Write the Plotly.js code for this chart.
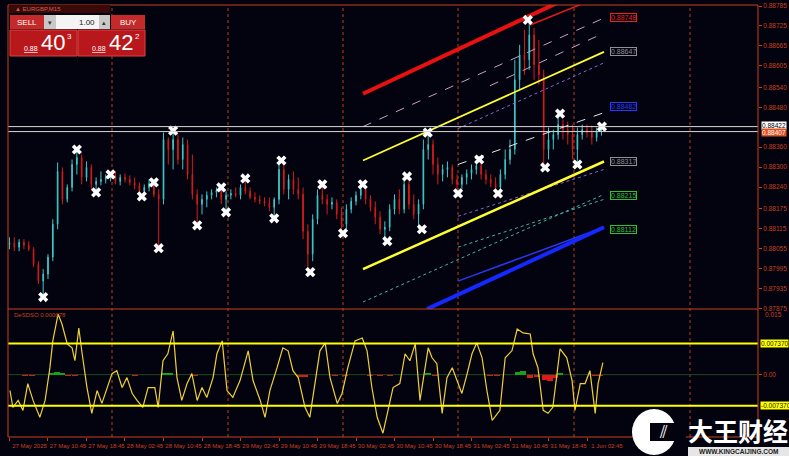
<!DOCTYPE html>
<html><head><meta charset="utf-8">
<script src="https://cdn.plot.ly/plotly-3.0.1.min.js"></script>
<style>html,body{margin:0;padding:0;background:#03030f;overflow:hidden}#chart{width:789px;height:456px;}</style>
</head><body><div id="chart"></div><script>
// ---------- DATA ----------
const xTickHours = [0,8,16,24,32,40,48,56,64,72,80,88,96,104,112,120];
const xTickLabels = ["27 May 2025","27 May 10:45","27 May 18:45","28 May 02:45","28 May 10:45","28 May 18:45","29 May 02:45","29 May 10:45","29 May 18:45","30 May 02:45","30 May 10:45","30 May 18:45","31 May 02:45","31 May 10:45","31 May 18:45","1 Jun 02:45"];
const daySeparators = [21.3,45.4,69.3,93.2,117.3,141.4];
const priceTicks = [0.88785,0.88725,0.88665,0.88605,0.88540,0.88480,0.88360,0.88300,0.88240,0.88175,0.88115,0.88055,0.87995,0.87935,0.87875];

const openP = [0.88068,0.88071,0.88059,0.88074,0.88065,0.88053,0.88008,0.87957,0.87978,0.88029,
0.88128,0.88287,0.88203,0.88239,0.88308,0.88329,0.88269,0.88299,0.88248,0.88257,
0.88263,0.88269,0.88275,0.88257,0.88269,0.88263,0.88254,0.88245,0.88227,0.88239,
0.88251,0.88218,0.88203,0.88383,0.88353,0.88383,0.88323,0.88368,0.88278,0.88218,
0.88188,0.88203,0.88215,0.88224,0.88230,0.88203,0.88215,0.88221,0.88215,0.88239,
0.88227,0.88209,0.88203,0.88197,0.88191,0.88179,0.88203,0.88293,0.88233,0.88263,
0.88233,0.88218,0.88107,0.88038,0.88143,0.88215,0.88203,0.88188,0.88194,0.88158,
0.88128,0.88173,0.88197,0.88215,0.88233,0.88203,0.88179,0.88149,0.88113,0.88119,
0.88173,0.88203,0.88173,0.88248,0.88188,0.88158,0.88188,0.88353,0.88368,0.88308,
0.88278,0.88293,0.88299,0.88263,0.88248,0.88269,0.88281,0.88293,0.88305,0.88278,
0.88263,0.88251,0.88239,0.88278,0.88323,0.88353,0.88563,0.88638,0.88623,0.88698,
0.88608,0.88578,0.88353,0.88383,0.88398,0.88428,0.88413,0.88398,0.88353,0.88398,
0.88413,0.88404,0.88389,0.88407];
const highP = [0.88089,0.88089,0.88083,0.88083,0.88077,0.88059,0.88017,0.87993,0.88038,0.88143,
0.88314,0.88299,0.88248,0.88323,0.88353,0.88338,0.88317,0.88308,0.88269,0.88287,
0.88278,0.88287,0.88287,0.88278,0.88281,0.88275,0.88269,0.88254,0.88248,0.88263,
0.88257,0.88233,0.88404,0.88389,0.88410,0.88398,0.88389,0.88383,0.88338,0.88233,
0.88218,0.88227,0.88233,0.88239,0.88239,0.88227,0.88233,0.88239,0.88248,0.88266,
0.88239,0.88224,0.88215,0.88209,0.88209,0.88209,0.88320,0.88308,0.88278,0.88287,
0.88269,0.88239,0.88128,0.88158,0.88233,0.88248,0.88218,0.88209,0.88203,0.88179,
0.88188,0.88209,0.88227,0.88248,0.88239,0.88215,0.88197,0.88167,0.88137,0.88188,
0.88218,0.88233,0.88272,0.88257,0.88218,0.88203,0.88383,0.88404,0.88383,0.88329,
0.88308,0.88317,0.88308,0.88278,0.88278,0.88293,0.88308,0.88323,0.88314,0.88293,
0.88278,0.88269,0.88293,0.88353,0.88383,0.88623,0.88668,0.88713,0.88734,0.88719,
0.88683,0.88593,0.88419,0.88413,0.88461,0.88443,0.88437,0.88428,0.88419,0.88428,
0.88428,0.88425,0.88419,0.88422];
const lowP = [0.88053,0.88047,0.88047,0.88053,0.88047,0.87999,0.87948,0.87909,0.87963,0.88017,
0.88113,0.88188,0.88194,0.88227,0.88278,0.88248,0.88257,0.88233,0.88218,0.88245,
0.88251,0.88257,0.88248,0.88245,0.88254,0.88245,0.88233,0.88212,0.88215,0.88227,
0.88209,0.88059,0.88188,0.88308,0.88293,0.88308,0.88293,0.88263,0.88203,0.88125,
0.88158,0.88179,0.88203,0.88209,0.88188,0.88164,0.88203,0.88209,0.88203,0.88218,
0.88203,0.88194,0.88188,0.88182,0.88167,0.88146,0.88188,0.88218,0.88203,0.88218,
0.88203,0.88083,0.87984,0.88017,0.88128,0.88188,0.88158,0.88173,0.88143,0.88101,
0.88113,0.88161,0.88185,0.88203,0.88188,0.88167,0.88128,0.88098,0.88077,0.88107,
0.88158,0.88158,0.88161,0.88173,0.88143,0.88113,0.88173,0.88323,0.88278,0.88248,
0.88257,0.88269,0.88248,0.88221,0.88233,0.88248,0.88263,0.88278,0.88263,0.88248,
0.88239,0.88221,0.88233,0.88263,0.88308,0.88338,0.88533,0.88578,0.88593,0.88563,
0.88548,0.88299,0.88323,0.88353,0.88383,0.88383,0.88368,0.88323,0.88308,0.88383,
0.88389,0.88368,0.88377,0.88395];
const closeP = [0.88071,0.88059,0.88074,0.88065,0.88053,0.88008,0.87957,0.87978,0.88029,0.88128,
0.88287,0.88203,0.88239,0.88308,0.88329,0.88269,0.88299,0.88248,0.88257,0.88263,
0.88269,0.88275,0.88257,0.88269,0.88263,0.88254,0.88245,0.88227,0.88239,0.88251,
0.88218,0.88203,0.88383,0.88353,0.88383,0.88323,0.88368,0.88278,0.88218,0.88188,
0.88203,0.88215,0.88224,0.88230,0.88203,0.88215,0.88221,0.88215,0.88239,0.88227,
0.88209,0.88203,0.88197,0.88191,0.88179,0.88203,0.88293,0.88233,0.88263,0.88233,
0.88218,0.88107,0.88038,0.88143,0.88215,0.88203,0.88188,0.88194,0.88158,0.88128,
0.88173,0.88197,0.88215,0.88233,0.88203,0.88179,0.88149,0.88113,0.88119,0.88173,
0.88203,0.88173,0.88248,0.88188,0.88158,0.88188,0.88353,0.88368,0.88308,0.88278,
0.88293,0.88299,0.88263,0.88248,0.88269,0.88281,0.88293,0.88305,0.88278,0.88263,
0.88251,0.88239,0.88278,0.88323,0.88353,0.88563,0.88638,0.88623,0.88698,0.88608,
0.88578,0.88353,0.88383,0.88398,0.88428,0.88413,0.88398,0.88353,0.88398,0.88413,
0.88404,0.88389,0.88407,0.88407];

const swingHours = [7,14,18,21,27.5,30,31,34,39,44,45,49,55,56.5,62.5,65,69.3,73.4,78.5,82.6,85.7,86.9,93.2,97.6,101.5,107.7,111.3,114.4,118,123.1];
const swingPrice = [0.87909,0.88353,0.88224,0.88278,0.88212,0.88254,0.88056,0.88410,0.88125,0.88239,0.88164,0.88266,0.88146,0.88320,0.87984,0.88248,0.88101,0.88248,0.88077,0.88272,0.88113,0.88404,0.88221,0.88323,0.88221,0.88743,0.88299,0.88461,0.88308,0.88422];

const bidAsk = [0.88422, 0.88407];
const bidAskLabels = ["0.88422", "0.88407"];
const oscLevels = [0.00737, -0.00737];
const oscLevelLabels = ["0.007370", "-0.007370"];
const oscTop = 0.015;

// channel / trend objects: [startHour, endHour] and [startPrice, endPrice]
const redThickX = [73.45,123.53], redThickY = [0.88521,0.88860];
const redThinX = [108.16,123.53], redThinY = [0.88728,0.88818];
const pinkDash1X = [73.45,123.53], pinkDash1Y = [0.88422,0.88749];
const pinkDash2X = [99.84,123.53], pinkDash2Y = [0.88545,0.88704];
const yellowUpX = [73.45,123.53], yellowUpY = [0.88320,0.88647];
const purpleUpX = [93.19,123.53], purpleUpY = [0.88416,0.88614];
const whiteMidX = [93.19,123.53], whiteMidY = [0.88308,0.88464];
const yellowLowX = [73.45,123.53], yellowLowY = [0.87993,0.88317];
const purpleLowX = [93.19,123.53], purpleLowY = [0.88152,0.88293];
const cyan1X = [73.45,123.53], cyan1Y = [0.87894,0.88218];
const cyan2X = [93.19,123.53], cyan2Y = [0.88059,0.88203];
const blueThickX = [86.75,123.53], blueThickY = [0.87873,0.88119];
const blueThinX = [93.19,123.53], blueThinY = [0.87957,0.88119];

const lineLabels = ["0.88748","0.88647","0.88482","0.88317","0.88215","0.88112"];
const lineLabelPrice = [0.88749,0.88647,0.88482,0.88317,0.88215,0.88112];

const oscHours = [0.1,0.7,1.8,2.8,3.8,4.9,6.3,7.4,8.4,9.0,10.1,10.9,12.0,13.0,13.6,14.4,15.1,16.1,17.1,18.2,19.2,20.3,21.3,22.3,23.4,24.4,25.5,26.5,27.7,28.8,30.2,30.9,31.9,32.9,34.0,34.8,35.8,36.9,37.9,39.0,40.0,41.0,42.3,43.1,44.2,45.2,46.4,47.9,49.6,50.6,52.1,53.1,54.1,55.6,56.8,57.9,58.9,60.0,61.4,62.4,63.5,64.5,65.6,66.6,68.1,69.1,70.3,71.8,73.3,74.3,75.3,76.4,77.6,79.7,81.1,82.2,83.2,84.3,85.3,86.3,87.0,87.8,88.8,89.9,90.9,92.0,93.0,94.0,95.1,96.1,97.1,98.2,99.2,100.3,101.9,103.0,104.4,105.5,106.7,108.2,108.8,109.8,110.9,111.9,112.9,113.8,114.4,115.8,116.9,117.5,118.6,119.6,120.6,121.7,122.3,123.3];
const oscValues = [-0.00377,-0.00777,-0.00612,-0.00848,-0.00212,-0.00612,-0.01013,-0.00612,0.00165,0.00801,0.01437,0.01201,0.0073,0.00636,0.0033,0.01107,0.00495,-0.00306,-0.00918,-0.00377,-0.00683,-0.00306,0.00024,0.00094,-0.00306,-0.00071,-0.00447,-0.00612,-0.00777,-0.00306,-0.00306,-0.00777,0.0033,0.00495,0.01036,-0.00071,-0.00612,-0.00212,0.00024,-0.00612,-0.00306,-0.00542,-0.00071,0.00495,0.00801,-0.00377,-0.00542,-0.00141,0.00565,-0.00141,-0.00612,-0.01013,-0.00377,0.00165,0.00636,0.00565,0.00094,-0.00071,-0.00777,-0.01013,-0.00141,0.00565,0.00754,-0.00071,-0.00683,-0.00447,0.00165,0.00801,0.00871,0.00565,-0.00306,-0.01013,-0.01389,-0.00306,-0.00212,0.00495,0.0033,0.0073,-0.00612,0.00165,0.00636,0.004,0.00259,-0.00918,-0.00071,0.00165,-0.00141,-0.00447,0.00024,0.00495,0.00754,0.004,-0.00377,-0.01083,-0.00848,0.004,0.00565,0.01083,0.00989,0.00966,0.00495,0.00165,-0.00848,-0.00918,-0.00777,0.00094,0.00612,0.004,-0.00141,-0.00848,-0.00212,-0.00212,0.00094,-0.00918,-0.00212,0.00283];
const histHours = [3.2,4.7,8.8,9.9,10.9,12.2,13.6,26.1,32.3,33.4,38.5,60.4,61.4,67.6,69.7,74.9,77,79.1,87,88.4,99.8,101.3,105.7,106.7,108.2,109.6,111.3,112.3,113.3,114.4,121.7,122.7];
const histValues = [-0.0003,-0.0004,0.0004,0.0006,0.0005,-0.0003,-0.0004,-0.0003,0.0004,0.0003,-0.0003,-0.0005,-0.0006,-0.0003,-0.0004,-0.0003,-0.0004,-0.0003,0.0004,-0.0004,-0.0004,-0.0003,0.0007,0.0009,-0.0008,-0.0006,-0.0012,-0.0014,-0.0008,0.0004,-0.0004,-0.0003];

// ---------- BUILD ----------
const barHours = closeP.map((_, i) => i);
const AX = '#c8401e';
const FONT = 'Liberation Sans, Arial, sans-serif';
const px = x => (x - 8) / 750;
const py = y => (437 - y) / 432;

function seg(xs, ys, color, width, dash) {
  return {type:'scatter', mode:'lines', x:xs, y:ys, xaxis:'x', yaxis:'y',
    line:{color:color, width:width, dash:dash||'solid'}, hoverinfo:'skip', showlegend:false};
}

const traces = [
  {type:'candlestick', x:barHours, open:openP, high:highP, low:lowP, close:closeP, xaxis:'x', yaxis:'y',
   increasing:{line:{color:'#3ec8c8', width:1}, fillcolor:'#3ec8c8'},
   decreasing:{line:{color:'#d41c1c', width:1}, fillcolor:'#d41c1c'},
   whiskerwidth:0, hoverinfo:'skip', showlegend:false},
  seg(pinkDash1X, pinkDash1Y, '#c8a0c8', 1, 'dash'),
  seg(pinkDash2X, pinkDash2Y, '#c8a0c8', 1, 'dash'),
  seg(purpleUpX, purpleUpY, '#8a64d0', 1, 'dot'),
  seg(whiteMidX, whiteMidY, '#e8e8e8', 1, 'dash'),
  seg(purpleLowX, purpleLowY, '#8a64d0', 1, 'dot'),
  seg(cyan1X, cyan1Y, '#48b0a8', 1, 'dot'),
  seg(cyan2X, cyan2Y, '#48b0a8', 1, 'dot'),
  seg(redThinX, redThinY, '#e81818', 1.5),
  seg(redThickX, redThickY, '#e81010', 4),
  seg(yellowUpX, yellowUpY, '#ffff30', 1.8),
  seg(yellowLowX, yellowLowY, '#ffff30', 2.5),
  seg(blueThinX, blueThinY, '#2838f0', 1.5),
  seg(blueThickX, blueThickY, '#1428ff', 4),
  {type:'scatter', mode:'markers', x:swingHours, y:swingPrice, xaxis:'x', yaxis:'y',
   marker:{symbol:'x', size:9, color:'#ffffff', line:{width:0}}, hoverinfo:'skip', showlegend:false},
  {type:'bar', x:histHours, y:histValues, xaxis:'x', yaxis:'y2',
   marker:{color:histValues.map(v => v >= 0 ? '#18a018' : '#e01818')}, width:1.2, hoverinfo:'skip', showlegend:false},
  {type:'scatter', mode:'lines', x:oscHours, y:oscValues, xaxis:'x', yaxis:'y2',
   line:{color:'#f0d038', width:1.2}, hoverinfo:'skip', showlegend:false}
];

const shapes = [];
daySeparators.forEach(h => shapes.push({type:'line', xref:'x', yref:'paper', x0:h, x1:h, y0:0, y1:1,
  line:{color:'#b8401e', width:1, dash:'dot'}, layer:'below'}));
bidAsk.forEach(p => shapes.push({type:'line', xref:'paper', yref:'y', x0:0, x1:1, y0:p, y1:p,
  line:{color:'#d8d8d8', width:1}}));
shapes.push({type:'line', xref:'paper', yref:'y2', x0:0, x1:1, y0:0, y1:0, line:{color:'#1c4a1c', width:1}, layer:'below'});
oscLevels.forEach(v => shapes.push({type:'line', xref:'paper', yref:'y2', x0:0, x1:1, y0:v, y1:v,
  line:{color:'#ffff00', width:2}}));
// frame
shapes.push({type:'rect', xref:'paper', yref:'paper', x0:0, x1:1, y0:0, y1:1, line:{color:AX, width:1}});
shapes.push({type:'line', xref:'paper', yref:'paper', x0:0, x1:1, y0:py(309), y1:py(309), line:{color:AX, width:1}});
// one-click trading panel
shapes.push({type:'rect', xref:'paper', yref:'paper', x0:px(9), x1:px(110), y0:py(13), y1:py(5), fillcolor:'#3a0a0a', line:{width:0}});
shapes.push({type:'rect', xref:'paper', yref:'paper', x0:px(10), x1:px(44), y0:py(29), y1:py(15), fillcolor:'#c42a2a', line:{width:0}});
shapes.push({type:'rect', xref:'paper', yref:'paper', x0:px(44), x1:px(110), y0:py(29), y1:py(15), fillcolor:'#f4f4f4', line:{width:0}});
shapes.push({type:'rect', xref:'paper', yref:'paper', x0:px(44), x1:px(56), y0:py(29), y1:py(15), fillcolor:'#c8c8c8', line:{width:0}});
shapes.push({type:'rect', xref:'paper', yref:'paper', x0:px(99), x1:px(110), y0:py(29), y1:py(15), fillcolor:'#c8c8c8', line:{width:0}});
shapes.push({type:'rect', xref:'paper', yref:'paper', x0:px(111), x1:px(145), y0:py(29), y1:py(15), fillcolor:'#c42a2a', line:{width:0}});
shapes.push({type:'rect', xref:'paper', yref:'paper', x0:px(10), x1:px(77), y0:py(56), y1:py(30), fillcolor:'#b8181c', line:{color:'#e04040', width:1}});
shapes.push({type:'rect', xref:'paper', yref:'paper', x0:px(78), x1:px(145), y0:py(56), y1:py(30), fillcolor:'#b8181c', line:{color:'#e04040', width:1}});
// watermark logo
shapes.push({type:'circle', xref:'paper', yref:'paper', xsizemode:'pixel', ysizemode:'pixel',
  xanchor:px(654), yanchor:py(432), x0:-22, x1:22, y0:-23, y1:23, fillcolor:'#ffffff', line:{width:0}});
shapes.push({type:'rect', xref:'paper', yref:'paper', x0:px(650), x1:px(686), y0:py(441), y1:py(423), fillcolor:'#03030f', line:{width:0}});
shapes.push({type:'rect', xref:'paper', yref:'paper', x0:px(688), x1:px(789), y0:py(456), y1:py(447), fillcolor:'#e6e6e6', line:{width:0}});

function ann(x, y, text, size, color, extra) {
  return Object.assign({xref:'paper', yref:'paper', x:px(x), y:py(y), text:text, showarrow:false,
    font:{family:FONT, size:size, color:color}, xanchor:'left', yanchor:'middle'}, extra||{});
}
const annotations = [
  ann(13, 9, '▲ EURGBP,M15', 6, '#d06050'),
  ann(27, 22, 'SELL', 8, '#ffffff', {xanchor:'center'}),
  ann(128, 22, 'BUY', 8, '#ffffff', {xanchor:'center'}),
  ann(50, 22, '▾', 7, '#333333', {xanchor:'center'}),
  ann(104, 22, '▴', 7, '#333333', {xanchor:'center'}),
  ann(97, 22, '1.00', 8, '#222222', {xanchor:'right'}),
  ann(22, 48, '<u>0.88</u>', 7, '#ffffff'),
  ann(39, 43, '40', 22, '#ffffff'),
  ann(65, 36, '3', 8, '#ffffff'),
  ann(90, 48, '<u>0.88</u>', 7, '#ffffff'),
  ann(107, 43, '42', 22, '#ffffff'),
  ann(133, 36, '2', 8, '#ffffff'),
  ann(12, 315, 'DeSDSO 0.000078', 6, '#c8401e'),
  ann(686, 430, '<b>大王财经</b>', 25, '#ffffff', {font:{family:'Noto Sans CJK SC', size:25, color:'#ffffff'}}),
  ann(738, 451.5, '<b>WWW.KINGCAIJING.COM</b>', 6.5, '#202020', {xanchor:'center'}),
  ann(663, 432, '⫽', 17, '#ffffff', {xanchor:'center'})
];
const labelColors = ['#e82020','#909090','#2838ff','#909090','#30c030','#30c030'];
lineLabels.forEach((t, i) => annotations.push({xref:'x', yref:'y', x:124.8, y:lineLabelPrice[i], text:t,
  showarrow:false, xanchor:'left', yanchor:'middle', font:{family:FONT, size:7, color:labelColors[i]},
  bordercolor:labelColors[i], borderwidth:1, borderpad:0, bgcolor:'#03030f'}));
annotations.push({xref:'paper', yref:'y', x:px(761), y:bidAsk[0], yshift:1, text:bidAskLabels[0], showarrow:false, xanchor:'left', yanchor:'middle',
  font:{family:FONT, size:6.5, color:'#000000'}, bgcolor:'#ffffff', borderpad:0});
annotations.push({xref:'paper', yref:'y', x:px(761), y:bidAsk[1], yshift:-1, text:bidAskLabels[1], showarrow:false, xanchor:'left', yanchor:'middle',
  font:{family:FONT, size:6.5, color:'#ffffff'}, bgcolor:'#e05020', borderpad:0});
oscLevels.forEach((v, i) => annotations.push({xref:'paper', yref:'y2', x:px(760), y:v, text:oscLevelLabels[i],
  showarrow:false, xanchor:'left', yanchor:'middle', font:{family:FONT, size:6.5, color:'#202000'}, bgcolor:'#ffff00', borderpad:0}));
annotations.push({xref:'paper', yref:'y2', x:px(763), y:oscTop, yshift:-3, text:'0.015', showarrow:false, xanchor:'left', yanchor:'middle',
  font:{family:FONT, size:6.5, color:AX}});

const layout = {
  width:789, height:456, margin:{l:8, r:31, t:5, b:19},
  paper_bgcolor:'#03030f', plot_bgcolor:'#03030f',
  showlegend:false, bargap:0, boxgap:0.8, dragmode:false,
  xaxis:{range:[-0.31,155.53], anchor:'y2', tickvals:xTickHours, ticktext:xTickLabels, tickangle:0,
    tickfont:{family:FONT, size:6, color:AX}, ticks:'outside', ticklen:3, tickcolor:AX,
    ticklabelshift:20, showgrid:false, zeroline:false, showline:false, rangeslider:{visible:false}, fixedrange:true},
  yaxis:{domain:[128/432,1], range:[0.87873,0.88788], side:'right', tickvals:priceTicks,
    ticktext:priceTicks.map(v => v.toFixed(5)), tickfont:{family:FONT, size:6.5, color:AX},
    ticks:'outside', ticklen:3, tickcolor:AX, showgrid:false, zeroline:false, showline:false, fixedrange:true},
  yaxis2:{domain:[0,126/432], range:[-0.0148,0.0151], side:'right', tickvals:[0],
    ticktext:['0.00'], tickfont:{family:FONT, size:6.5, color:AX},
    ticks:'outside', ticklen:3, tickcolor:AX, showgrid:false, zeroline:false, showline:false, fixedrange:true},
  shapes:shapes, annotations:annotations
};
Plotly.newPlot('chart', traces, layout, {displayModeBar:false, staticPlot:true});
</script></body></html>
